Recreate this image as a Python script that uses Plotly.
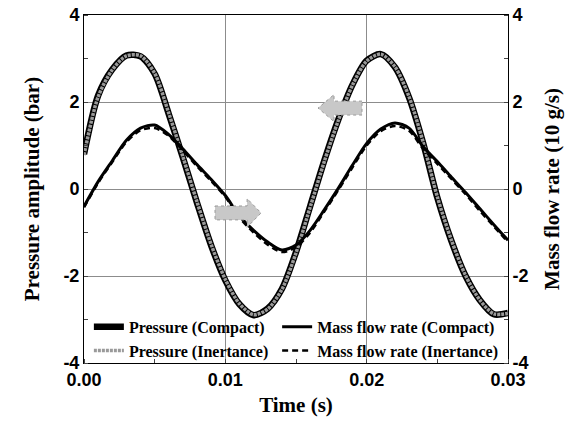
import plotly.graph_objects as go

# ---- data ----
time_s = [0.000, 0.001, 0.002, 0.003, 0.004, 0.005, 0.006, 0.007, 0.008, 0.009,
          0.010, 0.011, 0.012, 0.013, 0.014, 0.015, 0.016, 0.017, 0.018, 0.019,
          0.020, 0.021, 0.022, 0.023, 0.024, 0.025, 0.026, 0.027, 0.028, 0.029, 0.030]

pressure_compact = [0.80, 2.15, 2.75, 3.07, 3.05, 2.65, 1.72, 0.72, -0.32, -1.30,
                    -2.10, -2.65, -2.90, -2.75, -2.30, -1.45, -0.40, 0.65, 1.60, 2.40,
                    2.95, 3.10, 2.80, 2.10, 1.05, -0.20, -1.20, -2.00, -2.55, -2.88, -2.85]

pressure_inertance = [0.78, 2.12, 2.74, 3.06, 3.06, 2.66, 1.74, 0.74, -0.30, -1.28,
                      -2.08, -2.64, -2.89, -2.76, -2.31, -1.47, -0.42, 0.63, 1.58, 2.39,
                      2.94, 3.10, 2.81, 2.12, 1.07, -0.18, -1.18, -1.99, -2.55, -2.87, -2.86]

massflow_compact = [-0.40, 0.17, 0.65, 1.12, 1.40, 1.47, 1.25, 0.92, 0.56, 0.22,
                    -0.15, -0.62, -0.95, -1.22, -1.40, -1.29, -0.95, -0.48, 0.02, 0.55,
                    1.05, 1.38, 1.52, 1.40, 0.97, 0.63, 0.27, -0.08, -0.45, -0.82, -1.18]

massflow_inertance = [-0.42, 0.14, 0.62, 1.08, 1.35, 1.40, 1.22, 0.88, 0.52, 0.18,
                      -0.18, -0.66, -1.00, -1.28, -1.45, -1.34, -1.00, -0.52, -0.02, 0.50,
                      1.00, 1.33, 1.45, 1.34, 0.92, 0.58, 0.23, -0.12, -0.50, -0.86, -1.22]

x_ticks = [0.00, 0.01, 0.02, 0.03]
x_tick_labels = ["0.00", "0.01", "0.02", "0.03"]
y_ticks = [-4, -2, 0, 2, 4]
y_tick_labels = ["-4", "-2", "0", "2", "4"]

# arrow indicator positions (data coords): tail x, head-base x, tip x, centre y
arrow_left = dict(tail=0.01967, base=0.01769, tip=0.01656, yc=1.86, shaft=0.16, head=0.31)
arrow_right = dict(tail=0.00927, base=0.01154, tip=0.01253, yc=-0.55, shaft=0.16, head=0.33)

SERIF = "Liberation Serif"
SANS = "Liberation Sans"

fig = go.Figure()

fig.add_trace(go.Scatter(
    x=time_s, y=pressure_compact, name="<b>Pressure (Compact)</b>", mode="lines",
    line=dict(color="black", width=6.5, shape="spline", smoothing=0.8), legend="legend"))
fig.add_trace(go.Scatter(
    x=time_s, y=massflow_compact, name="<b>Mass flow rate (Compact)</b>", mode="lines",
    line=dict(color="black", width=3, shape="spline", smoothing=0.8), yaxis="y2",
    legend="legend2"))
fig.add_trace(go.Scatter(
    x=time_s, y=pressure_inertance, name="<b>Pressure (Inertance)</b>", mode="lines",
    line=dict(color="#9a9a9a", width=3.5, shape="spline", smoothing=0.8, dash="3px,1px"),
    legend="legend"))
fig.add_trace(go.Scatter(
    x=time_s, y=massflow_inertance, name="<b>Mass flow rate (Inertance)</b>", mode="lines",
    line=dict(color="black", width=2.5, shape="spline", smoothing=0.8, dash="6px,4px"),
    yaxis="y2", legend="legend2"))


def arrow_path(a):
    tl, bs, tp, yc, s, h = a["tail"], a["base"], a["tip"], a["yc"], a["shaft"], a["head"]
    return (f"M {tl},{yc + s} L {bs},{yc + s} L {bs},{yc + h} L {tp},{yc} "
            f"L {bs},{yc - h} L {bs},{yc - s} L {tl},{yc - s} Z")


shapes = []
for a in (arrow_left, arrow_right):
    shapes.append(dict(type="path", path=arrow_path(a), xref="x", yref="y",
                       fillcolor="#c8c8c8", line=dict(color="#9a9a9a", width=1, dash="dot"),
                       layer="above"))

legend_font = dict(family=SERIF, size=16, color="black")
tick_font = dict(family=SANS, size=18, color="black", weight="bold")
title_font = dict(family=SERIF, size=21, color="black")

fig.update_layout(
    width=570, height=428,
    margin=dict(l=84, r=62, t=15, b=65),
    plot_bgcolor="white", paper_bgcolor="white",
    showlegend=True,
    legend=dict(orientation="v", x=0.0115, y=-0.014, xanchor="left", yanchor="bottom",
                bgcolor="rgba(0,0,0,0)", font=legend_font, tracegroupgap=0),
    legend2=dict(orientation="v", x=0.4555, y=-0.014, xanchor="left", yanchor="bottom",
                 bgcolor="rgba(0,0,0,0)", font=legend_font, tracegroupgap=0),
    xaxis=dict(range=[0, 0.03], tickvals=x_ticks, ticktext=x_tick_labels,
               showgrid=True, gridcolor="#8c8c8c", gridwidth=1,
               showline=True, linecolor="black", mirror=True, zeroline=False,
               ticks="", tickfont=tick_font, ticklabeloverflow="allow",
               automargin="bottom",
               minor=dict(dtick=0.005, ticks="inside", ticklen=4, tickcolor="#444"),
               title=dict(text="<b>Time (s)</b>", font=title_font, standoff=8)),
    yaxis=dict(range=[-4, 4], tickvals=y_ticks, ticktext=y_tick_labels, showgrid=True,
               gridcolor="#8c8c8c", showline=True, linecolor="black", mirror=True,
               zeroline=False, ticks="", tickfont=tick_font, ticklabeloverflow="allow",
               automargin="left",
               minor=dict(dtick=1, ticks="inside", ticklen=4, tickcolor="#444"),
               title=dict(text="<b>Pressure amplitude (bar)</b>", font=title_font,
                          standoff=18)),
    yaxis2=dict(range=[-4, 4], tickvals=y_ticks, ticktext=y_tick_labels, overlaying="y",
                side="right", showgrid=False, zeroline=False, showline=True,
                linecolor="black", ticks="", tickfont=tick_font, ticklabeloverflow="allow",
                automargin="right",
                minor=dict(dtick=1, ticks="inside", ticklen=4, tickcolor="#444"),
                title=dict(text="<b>Mass flow rate (10 g/s)</b>", font=title_font,
                           standoff=16)),
    shapes=shapes,
)

fig.write_html("out.html", config={"displayModeBar": False},
               post_script="document.body.style.margin='0px';")
